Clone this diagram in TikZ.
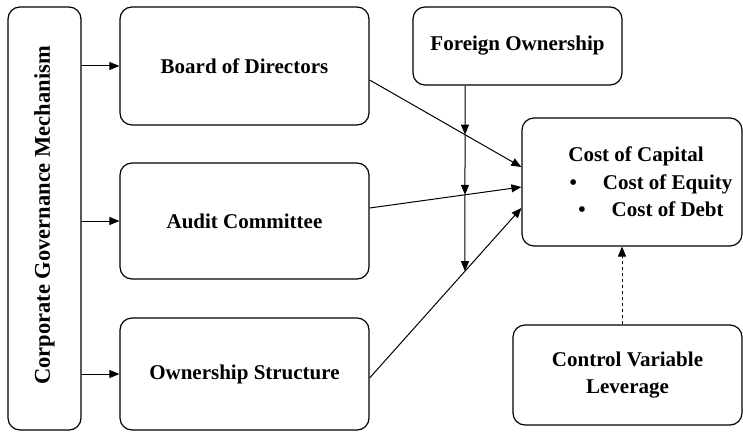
\documentclass[tikz,border=0pt]{standalone}
\usepackage{fontspec}
\setmainfont{Liberation Serif}
\usetikzlibrary{arrows.meta,positioning,calc}

\tikzset{
  box/.style={draw, rounded corners=12pt, line width=1.2pt, align=center,
    inner sep=0pt, font=\fontsize{21}{27.5}\selectfont\bfseries},
  arr/.style={-{Triangle[length=10pt,width=8pt]}, line width=1pt}
}

\begin{document}
\begin{tikzpicture}[x=1pt,y=-1pt]
    \useasboundingbox (0,0) rectangle (743,433);
    % mechanism and its three parts
    \node[box, minimum width=73pt, minimum height=423pt] (cgm) at (44.5,218.5) {};
    \node[rotate=90, font=\fontsize{22.5}{26}\selectfont\bfseries] (cgmtext) at ($(cgm.center)+(0,-3)$) {Corporate Governance Mechanism};
    \node[box, minimum width=249pt, minimum height=118pt] (bod) at (244.5,66) {\raisebox{-3pt}{Board of Directors}};
    \node[box, minimum width=249pt, minimum height=116pt] (ac) at (244.5,221) {Audit Committee};
    \node[box, minimum width=249pt, minimum height=112pt] (os) at (244.5,374) {\raisebox{-4pt}{Ownership Structure}};
    % moderator, outcome and control
    \node[box, minimum width=209pt, minimum height=78pt] (fo) at (517.5,46) {\raisebox{-8pt}{Foreign Ownership}};
    \node[box, minimum width=220pt, minimum height=128pt] (coc) at (632,182)
        {\hspace*{8pt}Cost of Capital\\ \hspace*{38pt}\textbullet\hspace{26pt}Cost of Equity\\ \hspace*{38pt}\textbullet\hspace{26pt}Cost of Debt};
    \node[box, minimum width=229pt, minimum height=100pt] (cv) at (627.5,375) {Control Variable\\Leverage};

    \draw[arr] (cgm.east |- bod.west) -- (bod.west);
    \draw[arr] (cgm.east |- ac.west) -- (ac.west);
    \draw[arr] (cgm.east |- os.west) -- (os.west);

    \coordinate (b1) at ($(bod.east)+(0,14)$);
    \coordinate (c1) at ($(coc.west)+(0,-15)$);
    \coordinate (a1) at ($(ac.east)+(0,-13)$);
    \coordinate (c2) at ($(coc.west)+(0,5)$);
    \coordinate (o1) at ($(os.east)+(0,4)$);
    \coordinate (c3) at ($(coc.west)+(0,26)$);
    \draw[arr] (b1) -- (c1);
    \draw[arr] (a1) -- (c2);
    \draw[arr] (o1) -- (c3);

    % foreign ownership down across the three paths
    \coordinate (f0) at ($(fo.south)+(-52.5,0)$);
    \coordinate (f9) at ($(f0)+(0,300)$);
    \coordinate (m1) at (intersection of b1--c1 and f0--f9);
    \coordinate (m2) at (intersection of a1--c2 and f0--f9);
    \coordinate (m3) at (intersection of o1--c3 and f0--f9);
    \draw[arr] (f0) -- (m1);
    \draw[arr] (m1) -- (m2);
    \draw[arr] (m2) -- (m3);

    \coordinate (v0) at ($(cv.north)+(-5.5,0)$);
    \draw[arr, dashed] (v0) -- (v0 |- coc.south);
\end{tikzpicture}
\end{document}
